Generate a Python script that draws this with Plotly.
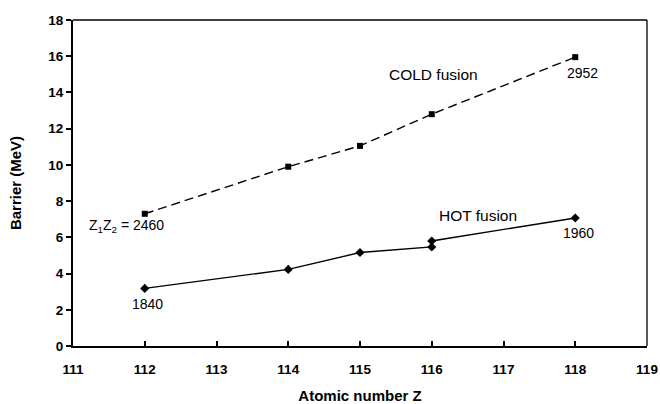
import plotly.graph_objects as go

cold_z = [112, 114, 115, 116, 118]
cold_barrier = [7.3, 9.9, 11.05, 12.8, 15.95]

hot_z = [112, 114, 115, 116, 116, 118]
hot_barrier = [3.18, 4.23, 5.16, 5.47, 5.8, 7.07]

x_ticks = [111, 112, 113, 114, 115, 116, 117, 118, 119]
y_ticks = [0, 2, 4, 6, 8, 10, 12, 14, 16, 18]

FONT = "Liberation Sans, Arial, sans-serif"

fig = go.Figure()
fig.add_trace(go.Scatter(
    x=cold_z, y=cold_barrier, mode="lines+markers",
    line=dict(color="black", width=1.4, dash="9px,5px"),
    marker=dict(symbol="square", size=6, color="black"),
    showlegend=False))
fig.add_trace(go.Scatter(
    x=hot_z, y=hot_barrier, mode="lines+markers",
    line=dict(color="black", width=1.4),
    marker=dict(symbol="diamond", size=7, color="black"),
    showlegend=False))

lab = dict(showarrow=False, font=dict(family=FONT, size=15.5, color="black"))
num = dict(showarrow=False, font=dict(family=FONT, size=14, color="black"))
fig.add_annotation(x=116.02, y=15.0, text="COLD fusion", **lab)
fig.add_annotation(x=118.1, y=15.07, text="2952", **num)
fig.add_annotation(x=111.74, y=6.6, text="Z<sub>1</sub>Z<sub>2</sub> = 2460", **num)
fig.add_annotation(x=112.04, y=2.3, text="1840", **num)
fig.add_annotation(x=116.64, y=7.22, text="HOT fusion", **lab)
fig.add_annotation(x=118.04, y=6.25, text="1960", **num)

fig.update_layout(
    width=660, height=404,
    margin=dict(l=73, r=13, t=20, b=58),
    paper_bgcolor="white", plot_bgcolor="white",
    font=dict(family=FONT, color="black"),
    shapes=[
        dict(type="line", xref="paper", yref="paper", x0=0, x1=1, y0=1, y1=1,
             line=dict(color="black", width=1.3)),
        dict(type="line", xref="paper", yref="paper", x0=1, x1=1, y0=0, y1=1,
             line=dict(color="black", width=1.3)),
    ],
)
fig.update_xaxes(
    range=[111, 119], tickvals=x_ticks, showgrid=False, zeroline=False,
    showline=True, linecolor="black", linewidth=2, automargin=False,
    ticks="inside", ticklen=5, tickwidth=1.5, tickcolor="black",
    ticklabelstandoff=10,
    tickfont=dict(family=FONT, size=13.5, color="black", weight="bold"),
    title=dict(text="<b>Atomic number Z</b>", font=dict(family=FONT, size=15), standoff=17),
)
fig.update_yaxes(
    range=[0, 18], tickvals=y_ticks, showgrid=False, zeroline=False,
    showline=True, linecolor="black", linewidth=2, automargin=False,
    ticks="outside", ticklen=5, tickwidth=1.5, tickcolor="black",
    tickfont=dict(family=FONT, size=13.5, color="black", weight="bold"),
    title=dict(text="<b>Barrier (MeV)</b>", font=dict(family=FONT, size=15), standoff=23),
)

fig.write_html("out.html")
